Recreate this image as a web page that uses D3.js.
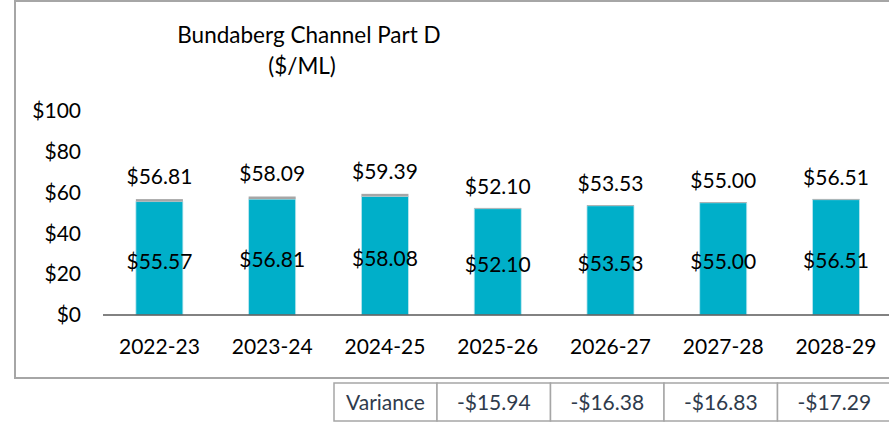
<!DOCTYPE html>
<html><head><meta charset="utf-8">
<script src="https://cdn.jsdelivr.net/npm/d3@7"></script>
<style>
html,body{margin:0;padding:0;background:#fff;}
svg{display:block;font-family:Lato, "Open Sans", sans-serif;}
</style></head>
<body>
<svg id="chart" width="889" height="423"></svg>
<script>
const categories = ["2022-23","2023-24","2024-25","2025-26","2026-27","2027-28","2028-29"];
const baseValues = [55.57,56.81,58.08,52.10,53.53,55.00,56.51];
const totalValues = [56.81,58.09,59.39,52.10,53.53,55.00,56.51];
const yTicks = [0,20,40,60,80,100];
const titleLines = ["Bundaberg Channel Part D","($/ML)"];
const varianceLabel = "Variance";
const varianceValues = ["-$15.94","-$16.38","-$16.83","-$17.29"];

const svg = d3.select("#chart");
const fmt = v => "$" + v.toFixed(2);

// chart frame
svg.append("path")
  .attr("d","M900,1 H15 V378 H900")
  .attr("fill","none").attr("stroke","#a6a6a6").attr("stroke-width",2);

const x = d3.scaleBand().domain(categories).range([103,892.4]).paddingInner(0.583).paddingOuter(0.2915);
const y = d3.scaleLinear().domain([0,100]).range([315,111]);

// title
svg.append("text").attr("x",309).attr("y",43).attr("text-anchor","middle")
  .attr("font-size",22.5).attr("fill","#000").text(titleLines[0]);
svg.append("text").attr("x",302).attr("y",74).attr("text-anchor","middle")
  .attr("font-size",22.5).attr("fill","#000").text(titleLines[1]);

// y axis
const yAxis = d3.axisLeft(y).tickValues(yTicks).tickSize(0).tickPadding(0).tickFormat(d => "$" + d);
const gy = svg.append("g").attr("transform","translate(81,0)").call(yAxis);
gy.select(".domain").remove();
gy.selectAll("text").attr("font-size",21).attr("fill","#000").attr("font-family","Lato, sans-serif");

// bars
const data = categories.map((c,i)=>({c, base:baseValues[i], total:totalValues[i]}));
const g = svg.append("g");
g.selectAll("rect.base").data(data).join("rect").attr("class","base")
  .attr("x",d=>x(d.c)).attr("width",x.bandwidth())
  .attr("y",d=>y(d.base)).attr("height",d=>y(0)-y(d.base))
  .attr("fill","#00afc9").attr("stroke","#bfe6ee").attr("stroke-width",0.8);
g.selectAll("rect.top").data(data).join("rect").attr("class","top")
  .attr("x",d=>x(d.c)).attr("width",x.bandwidth())
  .attr("y",d=>y(d.total)-(d.total>d.base?0:0.8)).attr("height",d=>Math.max(y(d.base)-y(d.total),0.8))
  .attr("fill","#a6a6a6");

// baseline
svg.append("line").attr("x1",103).attr("x2",889).attr("y1",y(0)).attr("y2",y(0))
  .attr("stroke","#595959").attr("stroke-width",1.5);

// x axis labels
const xAxis = d3.axisBottom(x).tickSize(0).tickPadding(0);
const gx = svg.append("g").attr("transform","translate(0,339)").call(xAxis);
gx.select(".domain").remove();
gx.selectAll("text").attr("font-size",21).attr("fill","#000").attr("font-family","Lato, sans-serif");

// labels
g.selectAll("text.mid").data(data).join("text").attr("class","mid")
  .attr("x",d=>x(d.c)+x.bandwidth()/2).attr("y",d=>(y(d.base)+y(0))/2+3)
  .attr("dy","0.35em").attr("text-anchor","middle").attr("font-size",21).attr("fill","#000")
  .text(d=>fmt(d.base));
g.selectAll("text.tot").data(data).join("text").attr("class","tot")
  .attr("x",d=>x(d.c)+x.bandwidth()/2).attr("y",d=>y(d.total)-15)
  .attr("text-anchor","middle").attr("font-size",21).attr("fill","#000")
  .text(d=>fmt(d.total));

// variance table
const cells = [{t:varianceLabel,x0:334,x1:437}].concat(varianceValues.map((v,i)=>({t:v,x0:437+i*113.5,x1:437+(i+1)*113.5})));
const tg = svg.append("g");
tg.selectAll("rect").data(cells).join("rect")
  .attr("x",d=>d.x0).attr("y",383).attr("width",d=>d.x1-d.x0).attr("height",38)
  .attr("fill","#fff").attr("stroke","#a6a6a6").attr("stroke-width",1.5);
tg.selectAll("text").data(cells).join("text")
  .attr("x",d=>(d.x0+d.x1)/2).attr("y",403).attr("dy","0.35em").attr("text-anchor","middle")
  .attr("font-size",21).attr("fill","#2f3b4c").text(d=>d.t);
</script>
</body></html>
